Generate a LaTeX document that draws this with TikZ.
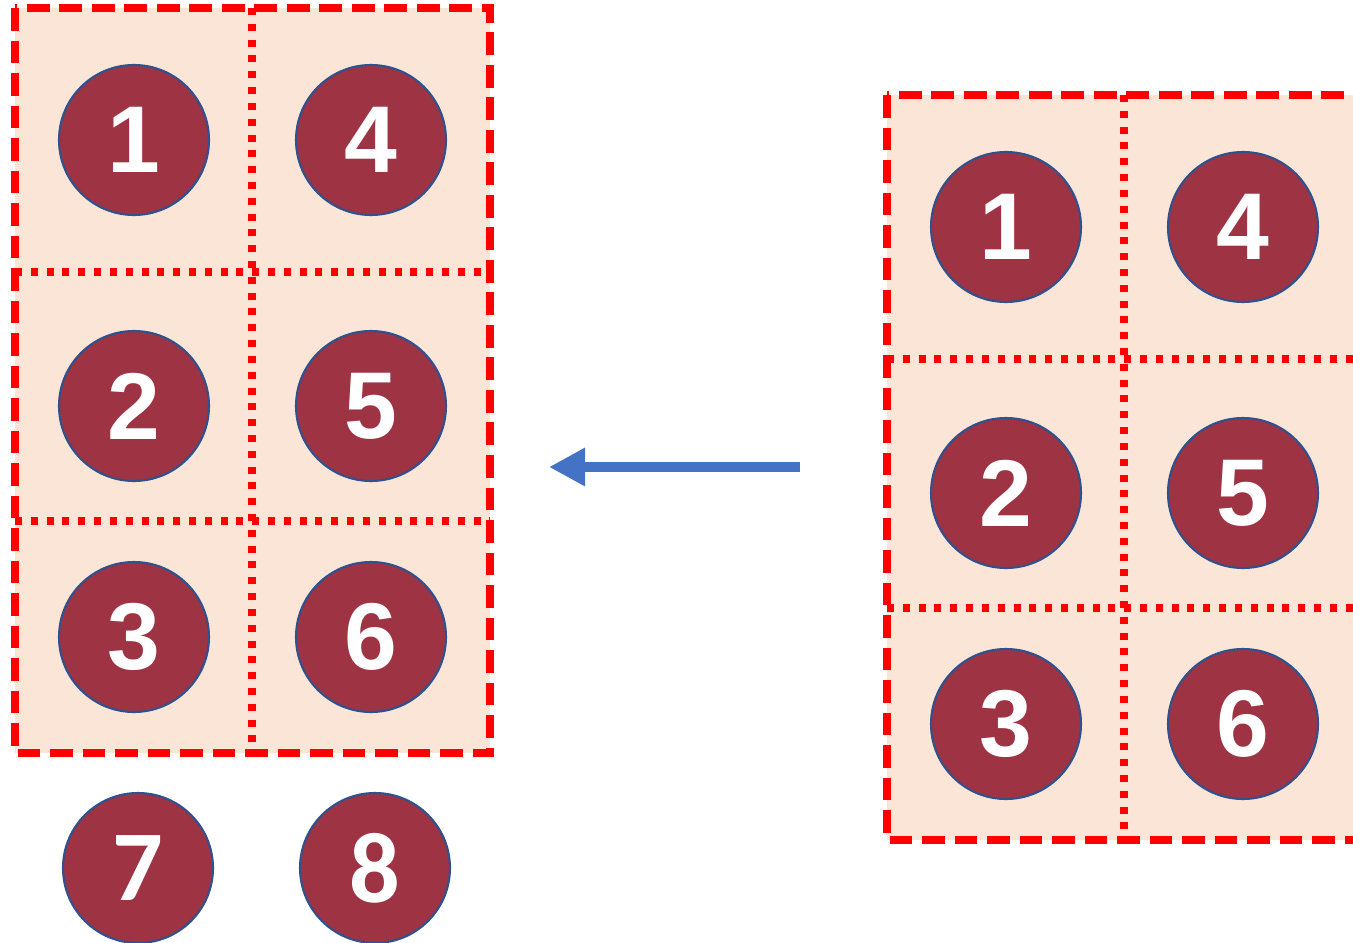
\documentclass[tikz,border=0pt]{standalone}
\usepackage{fontspec}
\setsansfont{Liberation Sans}
\newfontfamily\calfont{Carlito}
\usetikzlibrary{arrows.meta}
\definecolor{cellfill}{HTML}{FBE5D6}
\definecolor{ballfill}{HTML}{9E3344}
\definecolor{ballline}{HTML}{2F528F}
\definecolor{arrowblue}{HTML}{4472C4}

\begin{document}
\begin{tikzpicture}[x=0.02cm,y=-0.02cm]
      \tikzstyle{ball}=[circle,fill=ballfill,draw=ballline,line width=1.2pt,minimum size=3cm,inner sep=0pt,text=white,font=\sffamily\bfseries\fontsize{54}{60}\selectfont]
      \tikzstyle{outer}=[draw=red,line width=4.2pt,dash pattern=on 13pt off 5.5pt]
      \tikzstyle{inner}=[draw=red,line width=4.2pt,dash pattern=on 4pt off 5pt]
      \clip (0,0) rectangle (1353,943);
      \foreach \g/\dx/\dy in {l/0/0,r/872/87}{
        \begin{scope}[shift={(\dx,\dy)}]
          \fill[cellfill] (15,8) rectangle (490,753);
          \draw[inner] (252,8) -- (252,753);
          \draw[inner] (15,272) -- (490,272) (15,521) -- (490,521);
          \draw[outer] (15,8) rectangle (490,753);
          \node[ball] (\g1) at (134,140) {1};
          \node[ball] (\g4) at (371,140) {4};
          \node[ball] (\g2) at (134,406) {2};
          \node[ball] (\g5) at (371,406) {5};
          \node[ball] (\g3) at (134,637) {3};
          \node[ball] (\g6) at (371,637) {6};
        \end{scope}
      }
      % the two left over
      \node[ball,font=\calfont\bfseries\fontsize{57}{60}\selectfont] (l7) at (138,868) {7};
      \node[ball,font=\calfont\bfseries\fontsize{57}{60}\selectfont] (l8) at (375,868) {8};
      \coordinate (from) at (800,467);
      \coordinate (to) at (549,467);
      \draw[arrowblue,line width=5.7pt,-{Triangle[length=20.5pt,width=20.5pt]}] (from) -- (to);
\end{tikzpicture}
\end{document}
